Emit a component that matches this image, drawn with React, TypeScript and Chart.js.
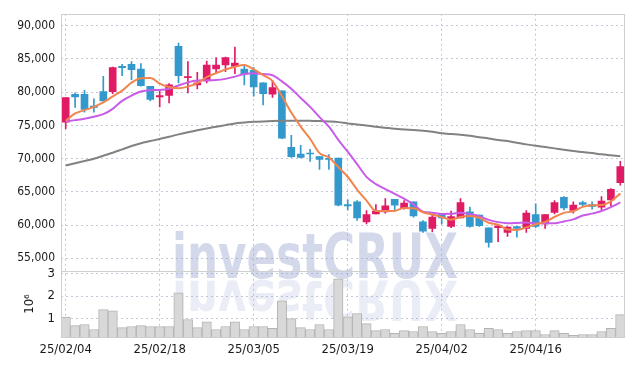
import React, { useEffect, useRef } from 'react';
import { Chart, registerables } from 'chart.js';

Chart.register(...registerables);

const dates = [
  '25/02/04', '25/02/05', '25/02/06', '25/02/07', '25/02/10', '25/02/11', '25/02/12', '25/02/13', '25/02/14', '25/02/17',
  '25/02/18', '25/02/19', '25/02/20', '25/02/21', '25/02/24', '25/02/25', '25/02/26', '25/02/27', '25/02/28', '25/03/04',
  '25/03/05', '25/03/06', '25/03/07', '25/03/10', '25/03/11', '25/03/12', '25/03/13', '25/03/14', '25/03/17', '25/03/18',
  '25/03/19', '25/03/20', '25/03/21', '25/03/24', '25/03/25', '25/03/26', '25/03/27', '25/03/28', '25/03/31', '25/04/01',
  '25/04/02', '25/04/03', '25/04/04', '25/04/07', '25/04/08', '25/04/09', '25/04/10', '25/04/11', '25/04/14', '25/04/15',
  '25/04/16', '25/04/17', '25/04/18', '25/04/21', '25/04/22', '25/04/23', '25/04/24', '25/04/25', '25/04/28', '25/04/29',
];

const opens = [
  75500, 79700, 79700, 77900, 80100, 80100, 83900, 84200, 83500, 80900,
  79300, 79500, 86900, 82200, 81100, 81700, 83500, 84100, 83900, 83500,
  83300, 81400, 79700, 80200, 71700, 70700, 70800, 70300, 70000, 70100,
  63100, 63500, 60500, 61700, 62000, 63900, 62600, 63500, 60500, 59500,
  61700, 59800, 61100, 62000, 61500, 59600, 59600, 58900, 59800, 59500,
  61600, 60200, 61900, 64200, 62200, 63400, 63100, 62700, 63800, 66400,
];
const highs = [
  79200, 79900, 80300, 79000, 82400, 83800, 84200, 84600, 84300, 80900,
  80400, 81300, 87400, 84600, 83000, 84700, 85200, 85300, 86800, 83900,
  83700, 81400, 81800, 80200, 73500, 72000, 71400, 70300, 70600, 70100,
  63800, 63700, 62200, 63100, 64000, 63900, 63700, 63500, 60700, 61600,
  61700, 62100, 64000, 62700, 61500, 59600, 59900, 59800, 59800, 62200,
  63200, 61600, 63700, 64300, 63500, 63600, 63500, 64300, 65500, 69600,
];
const lows = [
  74500, 77700, 77000, 77000, 78700, 79800, 82500, 81900, 80900, 78700,
  77800, 78400, 81400, 79900, 80500, 81400, 82900, 83100, 82800, 81100,
  79400, 78100, 79200, 73000, 70200, 70100, 69600, 68400, 68400, 62900,
  62300, 60700, 60200, 61700, 61800, 62200, 62400, 61200, 58900, 59000,
  60200, 59600, 61100, 59700, 59800, 56700, 57500, 58300, 58200, 58900,
  59600, 59500, 61700, 62300, 61800, 62900, 62400, 62300, 62900, 66000,
];
const closes = [
  79200, 79300, 77400, 77700, 78700, 83700, 83700, 83400, 81000, 78900,
  79500, 81100, 82500, 82300, 81400, 84100, 84100, 85200, 84400, 82700,
  80800, 79800, 80700, 73100, 70300, 70200, 70700, 69900, 69900, 63000,
  62900, 61100, 61600, 62100, 62900, 63000, 63300, 61400, 59100, 61200,
  61100, 61300, 63400, 59800, 59900, 57400, 59900, 59700, 59500, 61800,
  59800, 61600, 63400, 62600, 63000, 63100, 62800, 63600, 65400, 68800,
];

const ma5 = [
  75700, 76800, 77300, 77800, 78460, 79360, 80240, 81440, 82100, 82140,
  81300, 80780, 80600, 80860, 81360, 82280, 82880, 83420, 83840, 84100,
  83440, 82580, 81680, 79420, 76940, 74820, 73000, 70840, 70200, 68740,
  67280, 65360, 63700, 62140, 62120, 62140, 62580, 62540, 61940, 61600,
  61220, 60820, 61220, 61360, 61100, 60360, 60080, 59340, 59280, 59660,
  60140, 60480, 61220, 61840, 62080, 62740, 62980, 63020, 63580, 64740,
];
const ma10 = [
  75600, 75800, 76000, 76300, 76700, 77500, 78700, 79500, 80100, 80300,
  80330, 80510, 81020, 81480, 81750, 81790, 81830, 82010, 82350, 82730,
  82860, 82730, 82550, 81630, 80520, 79130, 77790, 76260, 74810, 72840,
  71050, 69180, 67270, 66170, 65430, 64710, 63970, 63120, 62040, 61860,
  61680, 61700, 61880, 61650, 61350, 60790, 60450, 60280, 60320, 60380,
  60250, 60280, 60280, 60560, 60870, 61440, 61730, 62120, 62710, 63410,
];
const ma60 = [
  68960, 69300, 69650, 70000, 70450, 70900, 71400, 71900, 72330, 72650,
  72970, 73300, 73660, 73980, 74280, 74550, 74800, 75050, 75300, 75430,
  75540, 75610, 75660, 75690, 75700, 75700, 75690, 75670, 75600, 75500,
  75300, 75150, 74980, 74800, 74650, 74500, 74400, 74300, 74200, 74050,
  73810, 73700, 73610, 73450, 73220, 73050, 72820, 72650, 72400, 72150,
  71930, 71750, 71550, 71340, 71150, 71000, 70840, 70650, 70500, 70350,
];

const volumes = [
  1070000, 700000, 750000, 530000, 1400000, 1350000, 610000, 660000, 700000, 660000,
  660000, 660000, 2140000, 970000, 610000, 870000, 530000, 660000, 870000, 530000,
  660000, 660000, 580000, 1790000, 1010000, 610000, 530000, 750000, 530000, 2750000,
  1090000, 1230000, 790000, 480000, 530000, 360000, 480000, 440000, 660000, 440000,
  360000, 440000, 750000, 530000, 360000, 580000, 530000, 360000, 440000, 480000,
  480000, 310000, 480000, 360000, 270000, 310000, 310000, 440000, 580000, 1180000,
];

const priceTicks = [55000, 60000, 65000, 70000, 75000, 80000, 85000, 90000];
const volumeTicks = [1000000, 2000000, 3000000];
const labelEvery = 10;
const watermarkText = 'investCRUX';
const volumeUnitTitle = '10⁶';

const UP = '#e01a64';
const DOWN = '#3399cc';
const FONT = '"DejaVu Sans Condensed", "DejaVu Sans", sans-serif';
const GRID = '#c3c7d8';
const FRAME = '#cfcfcf';
const TEXT = '#1a1a1a';

const decorPlugin = {
  id: 'decor',
  beforeDatasetsDraw(chart: any) {
    const { ctx } = chart;
    ctx.save();
    ctx.font = `bold 62px ${FONT}`;
    const w = ctx.measureText(watermarkText).width || 1;
    const sx = 286 / w;
    ctx.textAlign = 'center';
    ctx.textBaseline = 'alphabetic';
    ctx.translate(315, 278);
    ctx.scale(sx, 1);
    ctx.fillStyle = 'rgba(150,164,208,0.42)';
    ctx.fillText(watermarkText, 0, 0);
    ctx.scale(1, -0.9);
    ctx.fillStyle = 'rgba(150,164,208,0.2)';
    ctx.fillText(watermarkText, 0, -3);
    ctx.restore();
  },
  afterDraw(chart: any) {
    const { ctx, chartArea: a, scales } = chart;
    ctx.save();
    ctx.strokeStyle = FRAME;
    ctx.lineWidth = 1;
    ctx.strokeRect(Math.round(a.left) + 0.5, Math.round(a.top) + 0.5, Math.round(a.right - a.left) - 1, Math.round(a.bottom - a.top));
    const sep = Math.round(scales.yv.top) + 0.5;
    ctx.beginPath();
    ctx.moveTo(a.left, sep);
    ctx.lineTo(a.right, sep);
    ctx.stroke();
    ctx.restore();
  },
};

export default function App() {
  const ref = useRef<HTMLCanvasElement | null>(null);

  useEffect(() => {
    if (!ref.current) return;
    const colors = closes.map((c, i) => (c >= opens[i] ? UP : DOWN));
    const chart = new Chart(ref.current, {
      type: 'bar',
      data: {
        labels: dates,
        datasets: [
          {
            type: 'line',
            label: 'MA5',
            data: ma5,
            borderColor: '#f0854f',
            borderWidth: 2,
            pointRadius: 0,
            cubicInterpolationMode: 'monotone',
            yAxisID: 'y',
            order: 0,
          } as any,
          {
            type: 'line',
            label: 'MA10',
            data: ma10,
            borderColor: '#c85ce8',
            borderWidth: 2,
            pointRadius: 0,
            cubicInterpolationMode: 'monotone',
            yAxisID: 'y',
            order: 0,
          } as any,
          {
            type: 'line',
            label: 'MA60',
            data: ma60,
            borderColor: '#828282',
            borderWidth: 2,
            pointRadius: 0,
            cubicInterpolationMode: 'monotone',
            yAxisID: 'y',
            order: 0,
          } as any,
          {
            type: 'bar',
            label: 'body',
            data: opens.map((o, i) => [o, closes[i]]),
            backgroundColor: colors,
            borderWidth: 0,
            barThickness: 7,
            minBarLength: 1,
            grouped: false,
            yAxisID: 'y',
            order: 1,
          } as any,
          {
            type: 'bar',
            label: 'wick',
            data: lows.map((l, i) => [l, highs[i]]),
            backgroundColor: colors,
            borderWidth: 0,
            barThickness: 1,
            grouped: false,
            yAxisID: 'y',
            order: 2,
          } as any,
          {
            type: 'bar',
            label: 'volume',
            data: volumes,
            backgroundColor: '#d8d8d8',
            borderColor: '#b3b3b3',
            borderWidth: 1,
            barPercentage: 1,
            categoryPercentage: 1,
            grouped: false,
            yAxisID: 'yv',
            order: 3,
          } as any,
        ],
      },
      options: {
        responsive: false,
        animation: false,
        devicePixelRatio: 1,
        layout: { padding: { top: 9, right: 9, left: 0, bottom: 0 } },
        plugins: { legend: { display: false }, tooltip: { enabled: false } },
        scales: {
          x: {
            type: 'category',
            offset: true,
            grid: { offset: false, color: GRID, lineWidth: 1, drawTicks: false },
            border: { display: false, dash: [2, 3] },
            ticks: {
              autoSkip: false,
              maxRotation: 0,
              minRotation: 0,
              padding: 5,
              color: TEXT,
              font: { family: FONT, size: 13 },
              callback: (_v: any, i: number) => (i % labelEvery === 0 ? dates[i] : null),
            },
            afterFit: (s: any) => { s.height = 29; },
          },
          y: {
            type: 'linear',
            position: 'left',
            stack: 'main',
            stackWeight: 261,
            weight: 2,
            min: 53100,
            max: 91800,
            grid: { color: GRID, lineWidth: 1, drawTicks: false },
            border: { display: false, dash: [2, 3] },
            ticks: {
              autoSkip: false,
              padding: 6,
              color: TEXT,
              font: { family: FONT, size: 12 },
              callback: (v: any) => Number(v).toLocaleString('en-US'),
            },
            afterBuildTicks: (s: any) => { s.ticks = priceTicks.map((value) => ({ value })); },
            afterFit: (s: any) => { s.width = 61; },
          },
          yv: {
            type: 'linear',
            position: 'left',
            stack: 'main',
            stackWeight: 67,
            weight: 1,
            min: 200000,
            max: 3100000,
            grid: { color: GRID, lineWidth: 1, drawTicks: false },
            border: { display: false, dash: [2, 3] },
            title: {
              display: true,
              text: volumeUnitTitle,
              color: TEXT,
              font: { family: FONT, size: 13 },
              padding: { top: 22, bottom: 0 },
            },
            ticks: {
              autoSkip: false,
              padding: 6,
              color: TEXT,
              font: { family: FONT, size: 13 },
              callback: (v: any) => String(Math.round(Number(v) / 1000000)),
            },
            afterBuildTicks: (s: any) => { s.ticks = volumeTicks.map((value) => ({ value })); },
            afterFit: (s: any) => { s.width = 61; },
          },
        },
      } as any,
      plugins: [decorPlugin],
    });
    return () => chart.destroy();
  }, []);

  return (
    <div style={{ position: 'fixed', left: 0, top: 0, width: 634, height: 366, background: '#fff' }}>
      <canvas ref={ref} width={634} height={366} style={{ width: 634, height: 366, display: 'block' }} />
    </div>
  );
}
